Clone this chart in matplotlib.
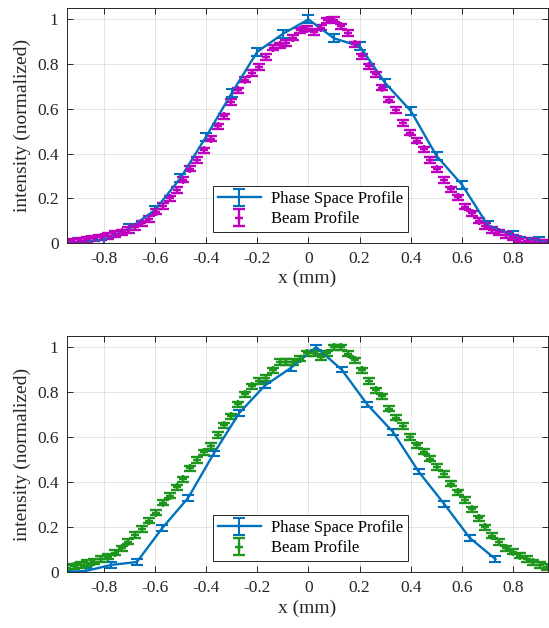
import numpy as np
import matplotlib
matplotlib.use("Agg")
import matplotlib.pyplot as plt

plt.rcParams['font.family'] = ['Liberation Serif', 'DejaVu Serif']
plt.rcParams['axes.unicode_minus'] = False

# phase space profile (coarse, with error bars)
ps_x_top = [-1.0, -0.9, -0.8, -0.7, -0.6, -0.5, -0.4, -0.3, -0.2, -0.1, 0.0,
            0.1, 0.2, 0.3, 0.4, 0.5, 0.6, 0.7, 0.8, 0.9, 1.0]
ps_y_top = [0.0, 0.005, 0.015, 0.065, 0.147, 0.29, 0.475, 0.67, 0.855, 0.935, 1.0,
            0.915, 0.88, 0.715, 0.59, 0.39, 0.26, 0.08, 0.035, 0.01, 0.0]
ps_x_bot = [-0.97, -0.87, -0.77, -0.67, -0.57, -0.47, -0.37, -0.27, -0.17, -0.07,
            0.03, 0.13, 0.23, 0.33, 0.43, 0.53, 0.63, 0.73]
ps_y_bot = [0.0, 0.005, 0.032, 0.045, 0.197, 0.33, 0.527, 0.708, 0.83, 0.907,
            1.0, 0.90, 0.745, 0.623, 0.447, 0.303, 0.152, 0.058]
ps_err_top = 0.018
ps_err_bot = 0.012

# beam profile (fine sampling)
beam_x = [-0.944, -0.917, -0.890, -0.864, -0.837, -0.810, -0.783, -0.756, -0.730,
          -0.703, -0.676, -0.649, -0.622, -0.596, -0.569, -0.542, -0.515, -0.488,
          -0.462, -0.435, -0.408, -0.381, -0.354, -0.328, -0.301, -0.274, -0.247,
          -0.220, -0.194, -0.167, -0.140, -0.113, -0.086, -0.060, -0.033, -0.006,
          0.021, 0.048, 0.074, 0.101, 0.128, 0.155, 0.182, 0.208, 0.235, 0.262,
          0.289, 0.316, 0.342, 0.369, 0.396, 0.423, 0.450, 0.476, 0.503, 0.530,
          0.557, 0.584, 0.610, 0.637, 0.664, 0.691, 0.718, 0.744, 0.771, 0.798,
          0.825, 0.852, 0.878, 0.905, 0.932]
beam_y_top = [0.001, 0.006, 0.010, 0.017, 0.021, 0.025, 0.031, 0.040, 0.048, 0.058,
              0.070, 0.088, 0.107, 0.140, 0.165, 0.200, 0.237, 0.284, 0.333, 0.371,
              0.415, 0.467, 0.522, 0.567, 0.630,
              0.683, 0.731, 0.760, 0.787, 0.832, 0.873, 0.884, 0.894, 0.918, 0.951,
              0.958, 0.943, 0.963, 0.996, 0.999, 0.969, 0.939, 0.888, 0.835, 0.790,
              0.754, 0.695, 0.641,
              0.594, 0.537, 0.494, 0.457, 0.419, 0.371, 0.329, 0.281, 0.240, 0.204,
              0.162, 0.133, 0.100, 0.076, 0.058, 0.048, 0.036, 0.025, 0.017, 0.010,
              0.006, 0.001, 0.0]
beam_y_bot = [0.018, 0.025, 0.032, 0.040, 0.047, 0.058, 0.069, 0.087, 0.106, 0.136,
              0.165, 0.192, 0.229, 0.264, 0.309, 0.340, 0.377, 0.412, 0.461, 0.498,
              0.532, 0.561, 0.609, 0.653, 0.693,
              0.746, 0.790, 0.826, 0.849, 0.864, 0.897, 0.934, 0.934, 0.934, 0.949,
              0.973, 0.973, 0.956, 0.973, 1.0, 1.0, 0.971, 0.941, 0.897, 0.849,
              0.808, 0.782, 0.727,
              0.687, 0.650, 0.601, 0.564, 0.535, 0.505, 0.468, 0.436, 0.394, 0.355,
              0.321, 0.279, 0.239, 0.199, 0.162, 0.133, 0.106, 0.091, 0.073, 0.059,
              0.044, 0.032, 0.022]
beam_err = 0.012

xticks = [-0.8, -0.6, -0.4, -0.2, 0, 0.2, 0.4, 0.6, 0.8]
xticklabels = ['-0.8', '-0.6', '-0.4', '-0.2', '0', '0.2', '0.4', '0.6', '0.8']
yticks = [0, 0.2, 0.4, 0.6, 0.8, 1]
yticklabels = ['0', '0.2', '0.4', '0.6', '0.8', '1']

blue = '#0072BD'
magenta = '#BF00BF'
green = '#1E961E'

fig = plt.figure(figsize=(5.49, 6.28), dpi=100)
ax1 = fig.add_axes([0.122, 0.613, 0.876, 0.374])
ax2 = fig.add_axes([0.122, 0.089, 0.876, 0.376])


def style_axes(ax):
    ax.set_xlim(-0.943, 0.935)
    ax.set_ylim(0, 1.05)
    ax.set_xticks(xticks)
    ax.set_xticklabels(xticklabels)
    ax.set_yticks(yticks)
    ax.set_yticklabels(yticklabels)
    ax.grid(True, color='#000000', alpha=0.1, linewidth=0.7)
    ax.set_axisbelow(True)
    ax.tick_params(direction='in', length=4, width=0.7, top=True, right=True,
                   labelsize=12.5, colors='#262626', pad=6)
    for s in ax.spines.values():
        s.set_color('#262626')
        s.set_linewidth(0.7)
    ax.set_xlabel('x (mm)', fontsize=14, color='#262626', labelpad=2)
    ax.set_ylabel('intensity (normalized)', fontsize=14, color='#262626', labelpad=4)


def draw(ax, psx, psy, pserr, by, bcol):
    ax.errorbar(psx, psy, yerr=pserr, color=blue, linewidth=1.7, elinewidth=1.5,
                capsize=4, capthick=1.5, label='Phase Space Profile')
    ax.errorbar(beam_x, by, yerr=beam_err, fmt='+', color=bcol, markersize=6,
                markeredgewidth=1.7, elinewidth=1.6, capsize=4, capthick=1.6,
                label='Beam Profile')
    style_axes(ax)
    leg = ax.legend(loc='lower left', bbox_to_anchor=(0.303, 0.045), fontsize=12,
                    fancybox=False, framealpha=1, edgecolor='#262626',
                    borderpad=0.3, handlelength=2.6, labelspacing=0.25,
                    borderaxespad=0, handletextpad=0.6)
    leg.get_frame().set_linewidth(0.7)


draw(ax1, ps_x_top, ps_y_top, ps_err_top, beam_y_top, magenta)
draw(ax2, ps_x_bot, ps_y_bot, ps_err_bot, beam_y_bot, green)

fig.savefig('out.png', dpi=100)
